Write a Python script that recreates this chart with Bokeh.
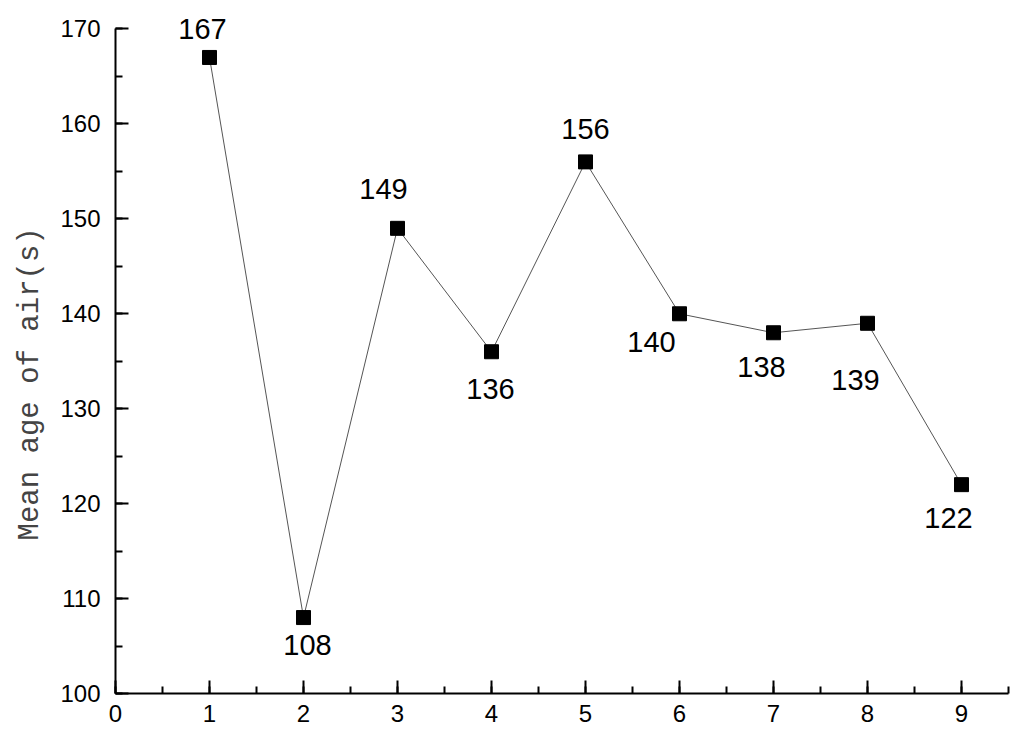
import math
from bokeh.plotting import figure
from bokeh.models import ColumnDataSource, SingleIntervalTicker, Title
from bokeh.core.properties import value
from bokeh.embed import file_html
from bokeh.resources import INLINE

case_no = [1, 2, 3, 4, 5, 6, 7, 8, 9]
mean_age = [167, 108, 149, 136, 156, 140, 138, 139, 122]
labels = [str(v) for v in mean_age]
y_title = "Mean age of air(s)"

# label placement (screen pixel offsets from each point)
label_dx = [-7, 4, -14, -1, 0, -28, -12, -12, -13]
label_dy = [-28, 27, -39, 37, -33, 28, 34, 57, 33]

src = ColumnDataSource(dict(x=case_no, y=mean_age, t=labels, dx=label_dx, dy=label_dy))

p = figure(width=1016, height=740, x_range=(0, 9.5), y_range=(100, 173),
           output_backend="svg", toolbar_location=None,
           min_border_left=115, min_border_right=8, min_border_top=0, min_border_bottom=47)
p.outline_line_color = None
p.xgrid.visible = False
p.ygrid.visible = False
p.background_fill_color = "white"
p.border_fill_color = "white"

p.line("x", "y", source=src, line_color="#555555", line_width=1)
p.scatter("x", "y", source=src, marker="square", size=14, fill_color="black", line_color="black")
p.text("x", "y", text="t", source=src, x_offset="dx", y_offset="dy",
       text_align="center", text_baseline="middle", text_font_size="29px",
       text_font=value("Liberation Sans"), text_color="black")

p.xaxis.ticker = SingleIntervalTicker(interval=1, num_minor_ticks=2)
p.yaxis.ticker = SingleIntervalTicker(interval=10, num_minor_ticks=2)
p.yaxis.bounds = (100, 170)
for ax in (p.xaxis[0], p.yaxis[0]):
    ax.axis_line_width = 2
    ax.axis_line_color = "black"
    ax.major_tick_line_width = 2
    ax.minor_tick_line_width = 2
    ax.major_tick_line_color = "black"
    ax.minor_tick_line_color = "black"
    ax.major_tick_in = 13
    ax.major_tick_out = 0
    ax.minor_tick_in = 7
    ax.minor_tick_out = 0
    ax.major_label_text_font = "Liberation Sans"
    ax.major_label_text_font_size = "24px"
    ax.major_label_text_color = "black"
p.yaxis.major_label_standoff = 15
p.xaxis.major_label_standoff = 11

title = Title(text=y_title, align="left", offset=153, standoff=21,
              text_font="Liberation Mono", text_font_size="29px",
              text_font_style="normal", text_color="#444444")
p.add_layout(title, "left")

open("out.html", "w").write(file_html(p, INLINE))
